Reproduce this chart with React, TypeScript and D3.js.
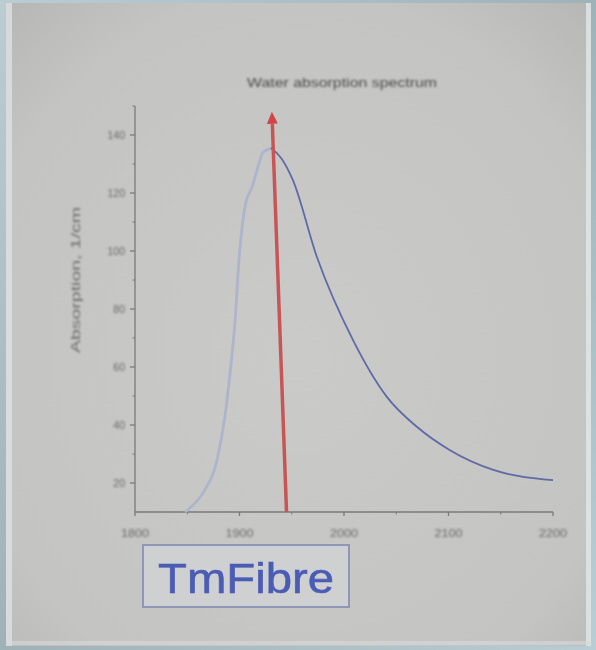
import React from "react";
import * as d3 from "d3";

const title = "Water absorption spectrum";
const yLabel = "Absorption, 1/cm";
const badge = "TmFibre";

const xTicks = [1800, 1900, 2000, 2100, 2200];
const xMinor = [1850, 1950, 2050, 2150];
const yTicks = [20, 40, 60, 80, 100, 120, 140];
const yMinor = [30, 50, 70, 90, 110, 130, 150];

// rising edge (lighter trace) up to the peak
const riseX = [1848, 1852.6, 1865, 1878.5, 1886, 1891, 1896, 1899, 1902.4, 1906, 1912, 1917.7, 1922.5, 1930];
const riseY = [10, 11.4, 16.6, 28, 42.8, 58, 77, 94.5, 108, 116.6, 122, 129, 134, 135.5];
// falling edge (darker trace) from the peak
const fallX = [1930, 1940, 1951, 1974, 2009, 2041, 2070, 2101, 2143, 2200];
const fallY = [135.5, 132, 124.5, 98, 69, 49.7, 39.3, 31.4, 24.5, 21];

// red marker arrow
const arrowX = [1945, 1931];
const arrowY = [10, 148];

export default function App() {
  const W = 596, H = 650;
  const x = d3.scaleLinear().domain([1800, 2200]).range([135, 553]);
  const y = d3.scaleLinear().domain([10, 150]).range([512, 106]);
  const line = d3
    .line<[number, number]>()
    .x((d) => x(d[0]))
    .y((d) => y(d[1]))
    .curve(d3.curveMonotoneX);
  const rise = line(riseX.map((v, i) => [v, riseY[i]] as [number, number]));
  const fall = line(fallX.map((v, i) => [v, fallY[i]] as [number, number]));

  const ax0 = x(arrowX[0]), ay0 = y(arrowY[0]);
  const ax1 = x(arrowX[1]), ay1 = y(arrowY[1]);
  const ang = Math.atan2(ay1 - ay0, ax1 - ax0);
  const hl = 12, hw = 5.5;
  const bx = ax1 - hl * Math.cos(ang), by = ay1 - hl * Math.sin(ang);
  const px = -Math.sin(ang), py = Math.cos(ang);
  const head = `M${ax1},${ay1}L${bx + hw * px},${by + hw * py}L${bx - hw * px},${by - hw * py}Z`;

  const axisColor = "#7a7a7a";
  const textColor = "#6a6a6a";
  const font = "Liberation Sans, Arial, sans-serif";

  return (
    <svg
      width={W}
      height={H}
      style={{ position: "absolute", left: 0, top: 0, display: "block" }}
    >
      <defs>
        <radialGradient id="bg" cx="50%" cy="55%" r="75%">
          <stop offset="0%" stopColor="#cacac8" />
          <stop offset="75%" stopColor="#c4c4c2" />
          <stop offset="100%" stopColor="#b6b6b5" />
        </radialGradient>
        <linearGradient id="frame" x1="0" y1="0" x2="1" y2="1">
          <stop offset="0%" stopColor="#b9cdd2" />
          <stop offset="50%" stopColor="#9fb2b7" />
          <stop offset="100%" stopColor="#b8ced4" />
        </linearGradient>
        <filter id="soft" x="-5%" y="-5%" width="110%" height="110%">
          <feGaussianBlur stdDeviation="0.7" />
        </filter>
        <filter id="soft2" x="-5%" y="-5%" width="110%" height="110%">
          <feGaussianBlur stdDeviation="0.5" />
        </filter>
        <filter id="soft3" x="-5%" y="-20%" width="110%" height="140%">
          <feGaussianBlur stdDeviation="0.9" />
        </filter>
      </defs>
      <rect x={0} y={0} width={W} height={H} fill="url(#frame)" />
      <rect x={6} y={3} width={584} height={643} fill="url(#bg)" />
      {/* bevel highlights */}
      <rect x={6} y={3} width={6} height={643} fill="#e2e4e4" opacity={0.75} filter="url(#soft)" />
      <rect x={586} y={3} width={5} height={643} fill="#e6e8e8" opacity={0.8} filter="url(#soft)" />
      <rect x={6} y={641} width={584} height={4} fill="#d8dada" opacity={0.6} filter="url(#soft)" />

      {/* blurry text */}
      <g filter="url(#soft3)">
        <text
          x={342}
          y={87}
          textAnchor="middle"
          fontFamily={font}
          fontSize={12.5}
          textLength={190}
          lengthAdjust="spacingAndGlyphs"
          fill="#4a4a4a"
        >
          {title}
        </text>
        {yTicks.map((t) => (
          <text
            key={"yl" + t}
            x={x(1800) - 10}
            y={y(t) + 4}
            textAnchor="end"
            fontFamily={font}
            fontSize={10.5}
            fill={textColor}
          >
            {t}
          </text>
        ))}
        <text
          transform={`translate(80,280) rotate(-90)`}
          textAnchor="middle"
          fontFamily={font}
          fontSize={12}
          textLength={146}
          lengthAdjust="spacingAndGlyphs"
          fill={textColor}
        >
          {yLabel}
        </text>
        {xTicks.map((t) => (
          <text
            key={"xl" + t}
            x={x(t)}
            y={y(10) + 25}
            textAnchor="middle"
            fontFamily={font}
            fontSize={11}
            textLength={28}
            lengthAdjust="spacingAndGlyphs"
            fill={textColor}
          >
            {t}
          </text>
        ))}
      </g>

      <g filter="url(#soft2)">
        {/* y axis */}
        <line x1={x(1800)} x2={x(1800)} y1={y(150)} y2={y(10)} stroke={axisColor} strokeWidth={1.3} />
        {yTicks.map((t) => (
          <line key={"yt" + t} x1={x(1800) - 5} x2={x(1800)} y1={y(t)} y2={y(t)} stroke={axisColor} strokeWidth={1.3} />
        ))}
        {yMinor.map((t) => (
          <line key={"ym" + t} x1={x(1800) - 2.5} x2={x(1800)} y1={y(t)} y2={y(t)} stroke={axisColor} strokeWidth={1} />
        ))}

        {/* x axis */}
        <line x1={x(1800)} x2={x(2200)} y1={y(10)} y2={y(10)} stroke={axisColor} strokeWidth={1.3} />
        {xTicks.map((t) => (
          <line key={"xt" + t} x1={x(t)} x2={x(t)} y1={y(10)} y2={y(10) + 4} stroke={axisColor} strokeWidth={1.3} />
        ))}
        {xMinor.map((t) => (
          <line key={"xm" + t} x1={x(t)} x2={x(t)} y1={y(10)} y2={y(10) + 2.5} stroke={axisColor} strokeWidth={1} />
        ))}

        {/* spectrum */}
        <path d={rise ?? ""} fill="none" stroke="#aeb4cc" strokeWidth={2.8} />
        <path d={fall ?? ""} fill="none" stroke="#5f6aa8" strokeWidth={1.8} />

        {/* red arrow */}
        <line x1={ax0} y1={ay0} x2={bx} y2={by} stroke="#c85555" strokeWidth={3.5} />
        <path d={head} fill="#d04545" />
      </g>

      {/* badge */}
      <g filter="url(#soft2)">
        <rect x={143} y={545} width={206} height={62} fill="#cfd0d2" stroke="#8e97b5" strokeWidth={2} />
        <text
          x={246}
          y={593}
          textAnchor="middle"
          fontFamily={font}
          fontSize={43}
          textLength={176}
          lengthAdjust="spacingAndGlyphs"
          fill="#4b5cb5"
          stroke="#4b5cb5"
          strokeWidth={0.6}
        >
          {badge}
        </text>
      </g>
    </svg>
  );
}
